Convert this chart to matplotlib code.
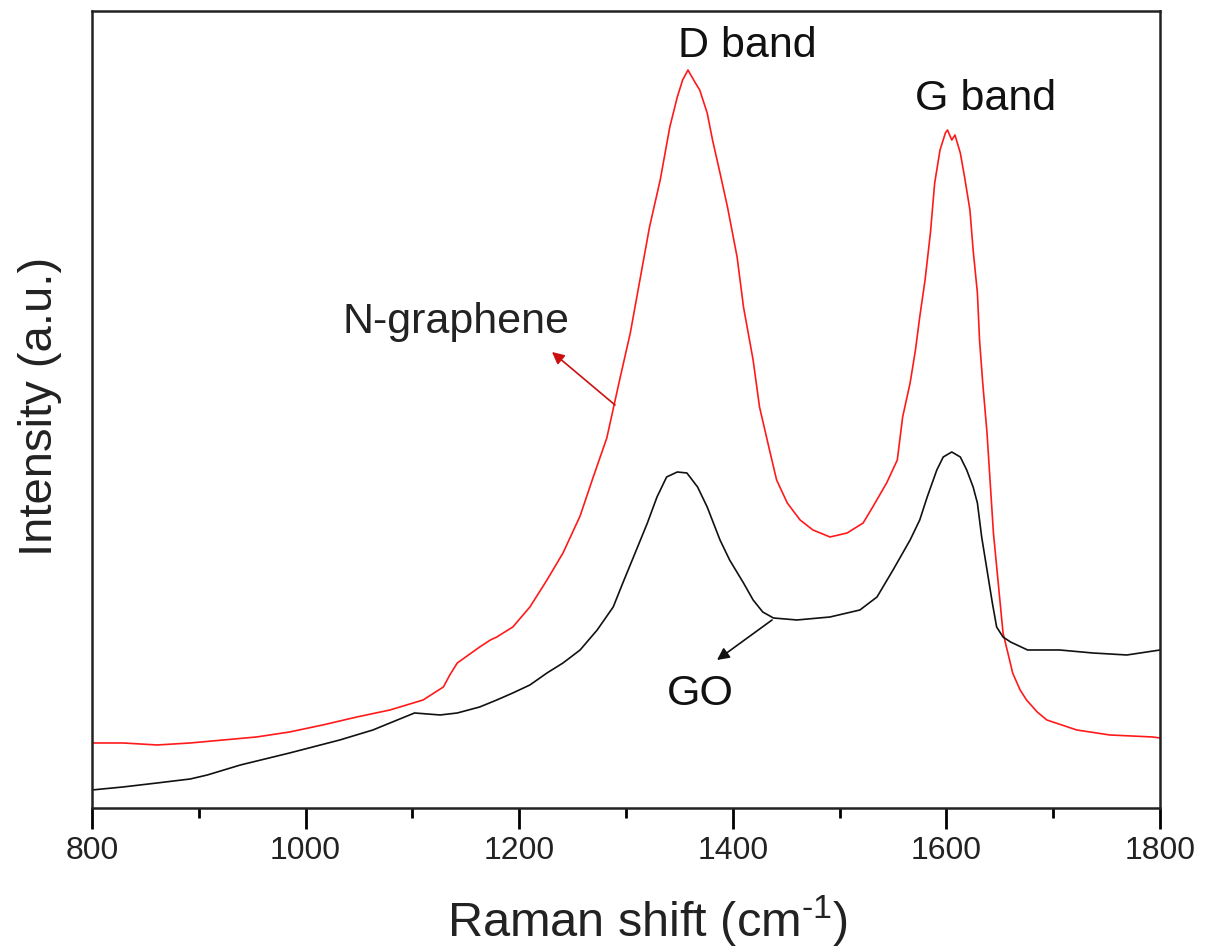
import matplotlib
matplotlib.use('Agg')
import matplotlib.pyplot as plt

plt.rcParams['font.family'] = ['Liberation Sans', 'DejaVu Sans']
plt.rcParams['mathtext.fontset'] = 'custom'
plt.rcParams['mathtext.rm'] = 'Liberation Sans'
plt.rcParams['mathtext.default'] = 'regular'

# Raman shift (cm-1) and intensity (a.u.)
ng_shift = [800, 829, 861, 892, 923, 954, 985, 1016, 1048, 1079, 1110, 1129,
            1135, 1142, 1163, 1173, 1179, 1194, 1210, 1226, 1241, 1257, 1269,
            1282, 1294, 1304, 1313, 1322, 1332, 1341, 1348, 1353, 1358, 1365,
            1369, 1376, 1381, 1388, 1395, 1404, 1410, 1419, 1425, 1435, 1441,
            1451, 1463, 1475, 1491, 1507, 1522, 1531, 1544, 1554, 1559, 1566,
            1571, 1575, 1580, 1585, 1589, 1594, 1599, 1601, 1605, 1608, 1613,
            1617, 1622, 1625, 1629, 1631, 1634, 1638, 1641, 1644, 1653, 1658,
            1662, 1669, 1675, 1685, 1694, 1722, 1753, 1793, 1800]
ng_int = [65, 65, 63, 65, 68, 71, 76, 83, 91, 98, 108, 121,
          133, 145, 161, 168, 171, 181, 201, 228, 255, 292, 330,
          370, 428, 475, 528, 581, 628, 681, 711, 728, 738, 725,
          718, 695, 668, 635, 601, 551, 501, 448, 401, 355, 328,
          305, 288, 278, 271, 275, 285, 301, 325, 348, 391, 425,
          458, 491, 528, 575, 625, 658, 675, 678, 668, 673, 655,
          631, 598, 558, 515, 468, 425, 375, 325, 275, 175, 153,
          135, 118, 108, 96, 88, 78, 73, 71, 70]

go_shift = [800, 829, 861, 892, 908, 939, 985, 1032, 1063, 1079, 1102, 1126,
            1142, 1163, 1179, 1194, 1210, 1226, 1241, 1257, 1273, 1288, 1297,
            1307, 1320, 1329, 1338, 1348, 1357, 1367, 1376, 1388, 1397, 1410,
            1419, 1428, 1438, 1460, 1491, 1519, 1535, 1550, 1566, 1575, 1582,
            1591, 1597, 1605, 1613, 1619, 1625, 1629, 1633, 1638, 1643, 1647,
            1653, 1660, 1676, 1706, 1737, 1769, 1800]
go_int = [18, 21, 25, 29, 33, 43, 55, 68, 78, 85, 95, 93,
          95, 101, 108, 115, 123, 135, 145, 158, 178, 201, 225,
          251, 285, 311, 331, 336, 335, 321, 301, 268, 248, 225,
          208, 196, 190, 188, 191, 198, 211, 238, 268, 288, 311,
          338, 351, 356, 351, 338, 321, 305, 271, 238, 205, 181,
          171, 166, 158, 158, 155, 153, 158]

fig = plt.figure(figsize=(12.09, 9.5), dpi=100)
ax = fig.add_axes([0.0761, 0.1495, 0.8834, 0.8389])

ax.plot(ng_shift, ng_int, color='#ff1a1a', lw=1.2)
ax.plot(go_shift, go_int, color='#111111', lw=1.2)

ax.set_xlim(800, 1800)
ax.set_ylim(0, 797)
ax.set_xticks([800, 1000, 1200, 1400, 1600, 1800])
ax.set_xticks([900, 1100, 1300, 1500, 1700], minor=True)
ax.set_yticks([])
ax.tick_params(axis='x', which='major', direction='out', length=15, width=2, pad=5,
               labelsize=23, labelcolor='#222222')
ax.tick_params(axis='x', which='minor', direction='out', length=7, width=2)
for s in ax.spines.values():
    s.set_linewidth(1.8)
    s.set_color('#222222')

# annotations
ax.text(1348.7, 751, 'D band', fontsize=31, color='#111111')
ax.text(1570.6, 698, 'G band', fontsize=31, color='#111111')
ax.text(1034.1, 475, 'N-graphene', fontsize=31, color='#222222')
ax.text(1338.4, 103, 'GO', fontsize=31, color='#111111')
ax.annotate('', xy=(1230.7, 456), xytext=(1289.7, 403),
            arrowprops=dict(arrowstyle='-|>', color='#cc1010', lw=1.2,
                            mutation_scale=18, shrinkA=0, shrinkB=0))
ax.annotate('', xy=(1385.2, 148), xytext=(1436.7, 188),
            arrowprops=dict(arrowstyle='-|>', color='#111111', lw=1.2,
                            mutation_scale=18, shrinkA=0, shrinkB=0))

fig.text(0.536, 0.0137, 'Raman shift (cm$^{\u20101}$)', fontsize=35, ha='center',
         va='baseline', color='#222222')
fig.text(40 / 1209, 0.5726, 'Intensity (a.u.)', fontsize=34, rotation=90,
         ha='center', va='center', color='#222222')

fig.savefig('out.png', dpi=100)
